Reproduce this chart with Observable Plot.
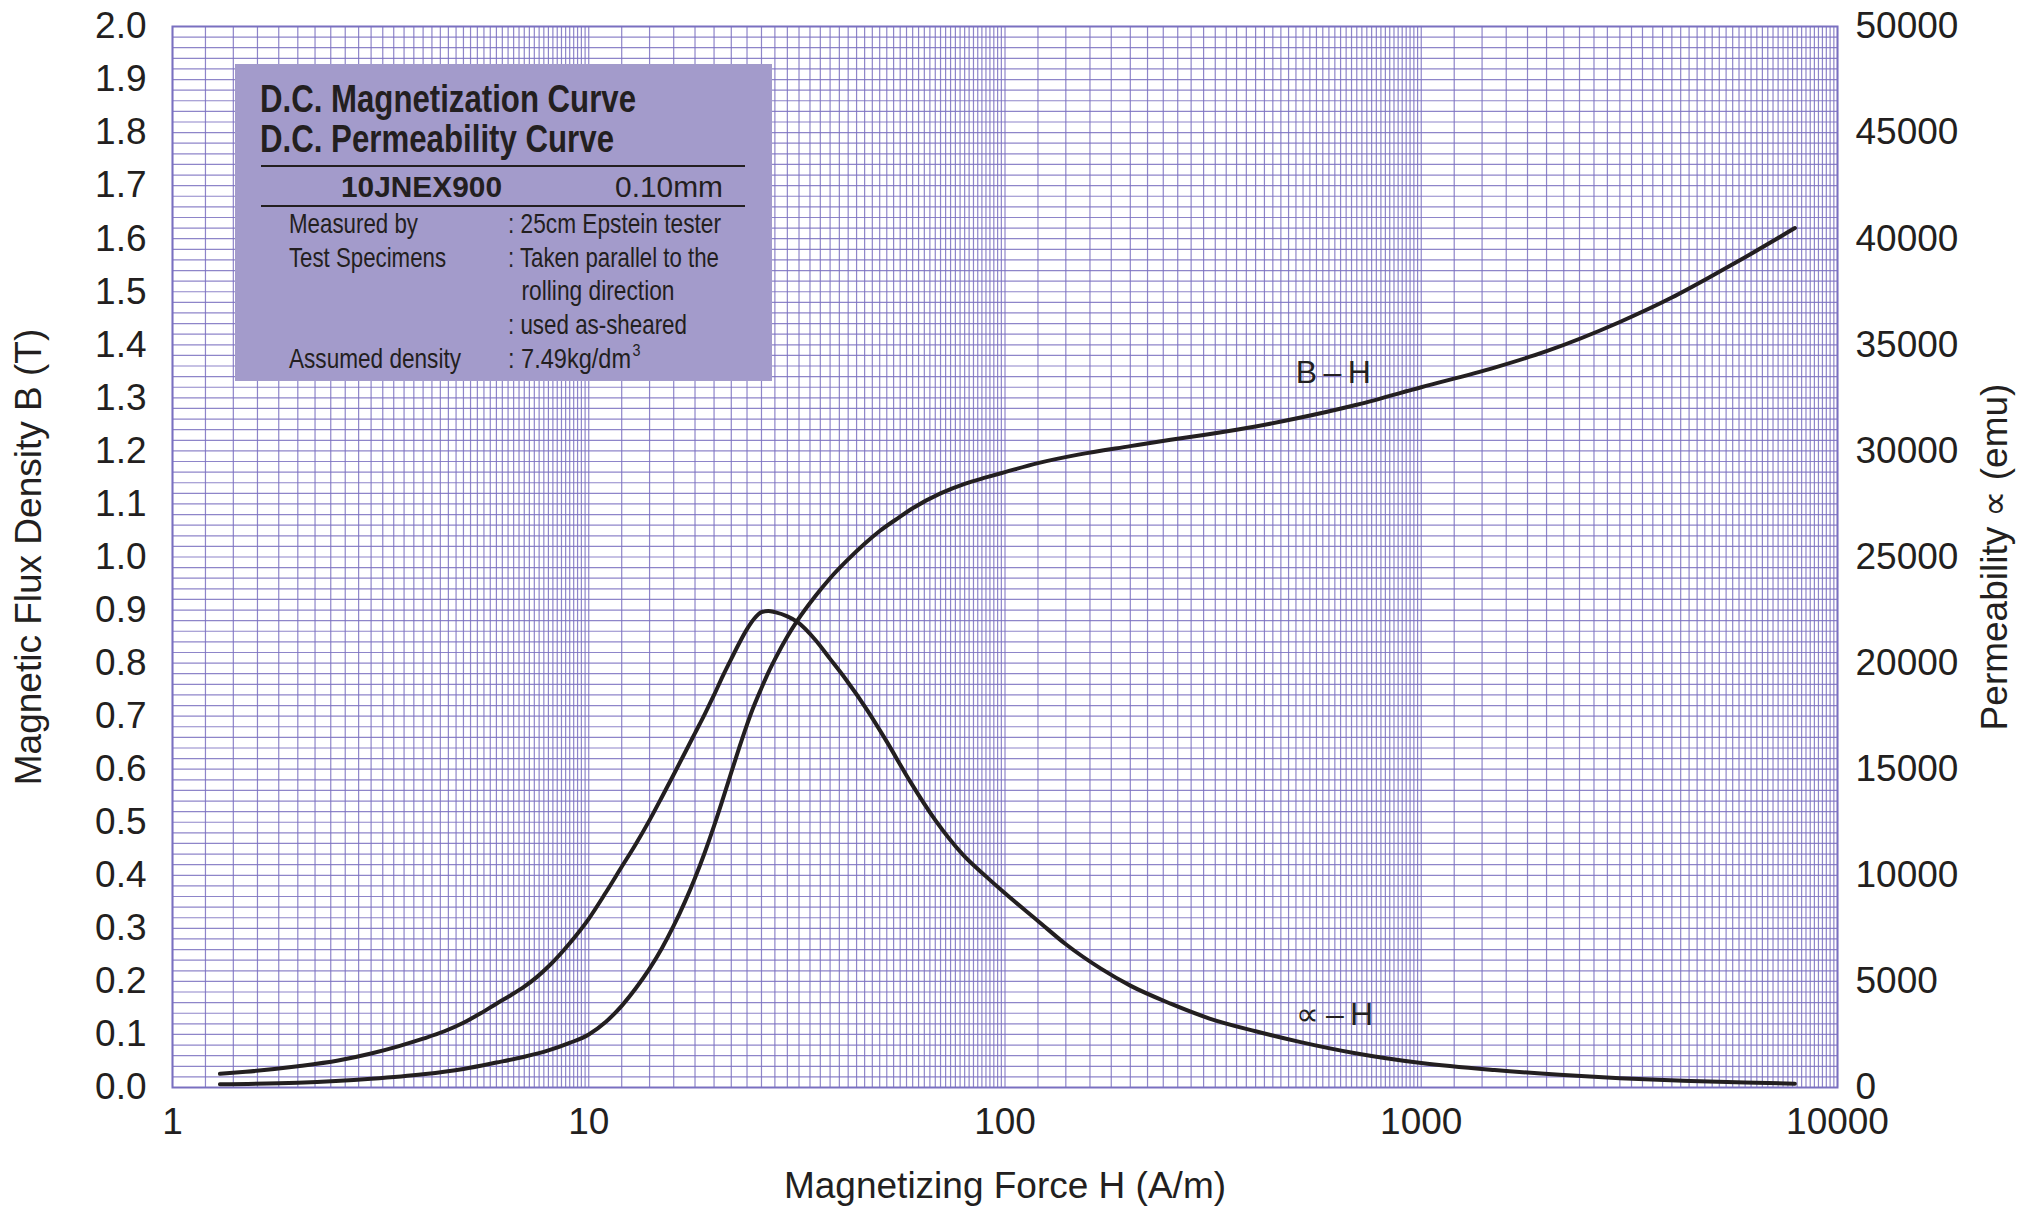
<!DOCTYPE html>
<html><head><meta charset="utf-8">
<script src="https://cdn.jsdelivr.net/npm/d3@7"></script>
<script src="https://cdn.jsdelivr.net/npm/@observablehq/plot@0.6"></script>
<style>
html,body{margin:0;padding:0;background:#fff;}
#chart{width:2038px;height:1209px;overflow:hidden;}
</style></head><body><div id="chart"></div>
<script>
// ---- data ----
const xTicks = [1, 10, 100, 1000, 10000];
const bTicks = [0,0.1,0.2,0.3,0.4,0.5,0.6,0.7,0.8,0.9,1.0,1.1,1.2,1.3,1.4,1.5,1.6,1.7,1.8,1.9,2.0];
const muTicks = [0,5000,10000,15000,20000,25000,30000,35000,40000,45000,50000];

// B-H curve: magnetizing force H (A/m) and flux density B (T)
const bhH = [1.3,2,3,4,5,6,7,8,9,10,11,12,13,14,15,16,17,18,19,20,21,22,23,24,24.7,26,27,28,30,31.7,35,38,41.8,46,50,55,60,70,80,90,100,120,150,200,250,300,400,500,700,1000,1500,2000,3000,4000,5000,6000,7900];
const bhB = [0.006,0.009,0.0165,0.025,0.035,0.047,0.058,0.070,0.084,0.100,0.124,0.154,0.188,0.224,0.263,0.305,0.349,0.395,0.443,0.493,0.544,0.594,0.641,0.684,0.711,0.753,0.782,0.807,0.850,0.880,0.926,0.960,0.994,1.025,1.049,1.072,1.092,1.120,1.138,1.150,1.160,1.177,1.193,1.209,1.221,1.230,1.246,1.261,1.287,1.320,1.357,1.388,1.443,1.489,1.530,1.565,1.620];

// permeability curve: H (A/m) and permeability (emu)
const muH = [1.3,1.5,2,2.5,3,3.5,4,4.5,5,5.5,6,6.5,7,7.5,8,9,10,11,12,13,14,15,16,17,18,19,20,21,22,23,24,25,26,27,28,30,31.7,35,38,41.4,46.7,52,59,68,79,90,100,120,140,170,200,250,310,400,510,700,1000,1500,2150,3000,4440,6000,7900];
const muV = [645,740,1000,1270,1600,1950,2300,2650,3050,3500,3950,4350,4750,5200,5700,6800,7950,9200,10400,11500,12600,13700,14750,15750,16700,17600,18500,19400,20200,20950,21600,22100,22400,22460,22400,22200,21940,21100,20200,19250,17775,16300,14460,12600,11000,9950,9150,7850,6750,5600,4800,3950,3250,2650,2150,1600,1150,820,600,440,310,230,180];

const curveLabels = ["B\u2009\u2013\u2009H", "\u221D\u2009\u2013\u2009H"];
const labelH = [615, 620];
const labelB = [1.347, 0.138];

const xTitle = "Magnetizing Force H (A/m)";
const yTitle = "Magnetic Flux Density B (T)";
const muTitle = "Permeability \u221D (emu)";

const boxTitle = ["D.C. Magnetization Curve", "D.C. Permeability Curve"];
const boxGrade = ["10JNEX900", "0.10mm"];
const boxKeys = ["Measured by", "Test Specimens", "", "", "Assumed density"];
const boxVals = [": 25cm Epstein tester", ": Taken parallel to the", "rolling direction", ": used as-sheared", ": 7.49kg/dm"];

// ---- derived tables ----
const MU_PER_B = 25000; // right axis: 50000 emu spans the same height as 2.0 T
const bhData = bhH.map((h, i) => ({H: h, B: bhB[i]}));
const muData = muH.map((h, i) => ({H: h, mu: muV[i]}));
const labelData = curveLabels.map((t, i) => ({t, H: labelH[i], y: labelB[i]}));

// grid: semi-log graph paper (0.2 steps inside each decade, 0.02 T steps)
const vGrid = [];
for (const d of [1, 10, 100, 1000]) for (let k = 10; k < 100; k += 2) vGrid.push(d * k / 10);
vGrid.push(10000);
const hGrid = d3.range(0, 101).map(i => i / 50);

const ink = "#231f20";
const gridColor = "#7a70c0";
const boxFill = "#a39bcb";
const narrow = "'Liberation Sans Narrow','Arial Narrow','Liberation Sans',Arial,sans-serif";
const regular = "'Liberation Sans',Arial,Helvetica,sans-serif";

function infoBox() {
  const g = d3.create("svg:g").attr("fill", ink).attr("text-anchor", "start");
  g.append("rect").attr("x", 235).attr("y", 64).attr("width", 537).attr("height", 317).attr("fill", boxFill);
  const t = (x, y, s, size, weight, fam, len) => {
    const e = g.append("text").attr("x", x).attr("y", y).attr("font-size", size)
      .attr("font-weight", weight).attr("font-family", fam).attr("text-anchor", "start").text(s);
    if (len) e.attr("textLength", len).attr("lengthAdjust", "spacingAndGlyphs");
    return e;
  };
  t(260, 112, boxTitle[0], 38, "bold", narrow, 376);
  t(260, 152, boxTitle[1], 38, "bold", narrow, 354);
  g.append("line").attr("x1", 261).attr("x2", 745).attr("y1", 166).attr("y2", 166).attr("stroke", ink).attr("stroke-width", 2);
  t(341, 197, boxGrade[0], 30, "bold", regular, 161);
  t(615, 197, boxGrade[1], 30, "normal", regular, 108);
  g.append("line").attr("x1", 261).attr("x2", 745).attr("y1", 206).attr("y2", 206).attr("stroke", ink).attr("stroke-width", 2);
  const keyLen = [129, 157, 0, 0, 172];
  const valLen = [213, 211, 153, 179, 123];
  const valX = [508, 508, 521.5, 508, 508];
  const rowY = [233, 266.7, 300.4, 334.1, 367.8];
  boxKeys.forEach((k, i) => { if (k) t(289, rowY[i], k, 28, "normal", narrow, keyLen[i]); });
  boxVals.forEach((v, i) => t(valX[i], rowY[i], v, 28, "normal", narrow, valLen[i]));
  t(632.5, 356, "3", 17, "normal", narrow, 8);
  return g.node();
}

const chart = Plot.plot({
  width: 2038, height: 1209,
  marginLeft: 172, marginRight: 201, marginTop: 26, marginBottom: 122,
  style: {fontFamily: regular, fontSize: "37px", color: ink, background: "#fff", overflow: "visible"},
  x: {type: "log", domain: [1, 10000]},
  y: {domain: [0, 2]},
  marks: [
    Plot.ruleX(vGrid, {stroke: gridColor, strokeWidth: 1.2, strokeOpacity: 0.85}),
    Plot.ruleY(hGrid, {stroke: gridColor, strokeWidth: 1.2, strokeOpacity: 0.85}),
    Plot.frame({stroke: gridColor, strokeWidth: 2}),
    infoBox,
    Plot.line(bhData, {x: "H", y: "B", curve: "monotone-x", stroke: ink, strokeWidth: 4}),
    Plot.line(muData, {x: "H", y: d => d.mu / MU_PER_B, curve: "monotone-x", stroke: ink, strokeWidth: 4}),
    Plot.text(labelData, {x: "H", y: "y", text: "t", fontSize: 32, fill: ink}),
    Plot.axisX(xTicks, {tickSize: 0, tickPadding: 20, tickFormat: d => String(d), fontSize: 37, label: null}),
    Plot.axisY(bTicks, {anchor: "left", tickSize: 0, tickPadding: 26, tickFormat: d => d.toFixed(1), fontSize: 37, label: null}),
    Plot.axisY(muTicks.map(m => m / MU_PER_B), {anchor: "right", tickSize: 0, tickPadding: 18, tickFormat: d => String(Math.round(d * MU_PER_B)), fontSize: 37, label: null}),
    Plot.text([xTitle], {frameAnchor: "bottom", lineAnchor: "middle", textAnchor: "middle", dy: 99, fontSize: 37, fill: ink}),
    Plot.text([yTitle], {frameAnchor: "left", lineAnchor: "middle", textAnchor: "middle", dx: -143, rotate: -90, fontSize: 37, fill: ink}),
    Plot.text([muTitle], {frameAnchor: "right", lineAnchor: "middle", textAnchor: "middle", dx: 158, rotate: -90, fontSize: 37, fill: ink})
  ]
});
document.getElementById("chart").appendChild(chart);
</script>
</body></html>
